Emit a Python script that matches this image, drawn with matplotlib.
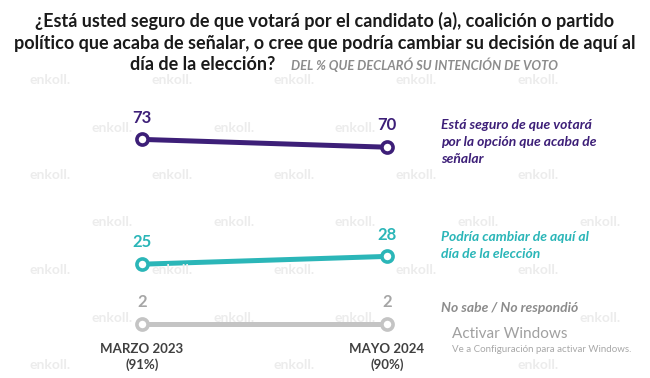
import matplotlib
matplotlib.use('Agg')
import matplotlib.pyplot as plt

plt.rcParams['font.family'] = ['Lato', 'DejaVu Sans']

periods = ['MARZO 2023\n(91%)', 'MAYO 2024\n(90%)']
seguro = [73, 70]
podria_cambiar = [25, 28]
no_sabe = [2, 2]

series_names = ['Está seguro de que votará\npor la opción que acaba de\nseñalar',
                'Podría cambiar de aquí al\ndía de la elección',
                'No sabe / No respondió']
series_values = [seguro, podria_cambiar, no_sabe]
line_colors = ['#3d1f78', '#2bb6b8', '#c4c4c4']
value_colors = ['#3d1f78', '#2bb6b8', '#a6a6a6']
name_colors = ['#3d1f78', '#2bb6b8', '#8c8c8c']

W, H = 650, 378
fig = plt.figure(figsize=(6.5, 3.78), dpi=100)
ax = fig.add_axes([0, 0, 1, 1])
ax.set_xlim(-142 / 245, (W - 142) / 245)
ax.set_ylim(2 - (H - 324) / 2.6, 2 + 324 / 2.6)
ax.axis('off')

texts = []
x = list(range(len(periods)))
for vals, lc, vc in zip(series_values, line_colors, value_colors):
    ax.plot(x, vals, color=lc, lw=3.6, marker='o', ms=8, mfc='white',
            mec=lc, mew=2.6, solid_capstyle='round', zorder=3)
    for xi, v in zip(x, vals):
        texts.append(ax.annotate(str(v), (xi, v), xytext=(0, 10), textcoords='offset points',
                                 ha='center', va='bottom', fontsize=12, fontweight='bold',
                                 color=vc))

# series names on the right
name_y = [119, 231, 302]
for name, nc, yp in zip(series_names, name_colors, name_y):
    texts.append(fig.text(441 / W, 1 - yp / H, name, fontsize=10, fontstyle='italic',
                          fontweight='bold', color=nc, ha='left', va='top', linespacing=1.5))

# x category labels
for xi, lab in zip(x, periods):
    texts.append(ax.annotate(lab, (xi, 2), xytext=(0, -14), textcoords='offset points',
                             ha='center', va='top', fontsize=9.5, fontweight='bold',
                             color='#404040', linespacing=1.3))

# title
tkw = dict(fontsize=13, fontweight='bold', color='#1a1a1a', va='center')
texts.append(fig.text(0.5, 1 - 21 / H, '¿Está usted seguro de que votará por el candidato (a), coalición o partido',
                      ha='center', **tkw))
texts.append(fig.text(0.5, 1 - 43 / H, 'político que acaba de señalar, o cree que podría cambiar su decisión de aquí al',
                      ha='center', **tkw))
texts.append(fig.text(130 / W, 1 - 65 / H, 'día de la elección?', ha='left', **tkw))
texts.append(fig.text(291 / W, 1 - 65 / H, 'DEL % QUE DECLARÓ SU INTENCIÓN DE VOTO', ha='left',
                      va='center', fontsize=9.3, fontweight='bold', fontstyle='italic',
                      color='#8c8c8c'))

# OS activation overlay seen in the screenshot
texts.append(fig.text(452 / W, 1 - 334 / H, 'Activar Windows', ha='left', va='center',
                      fontsize=11, color='#a0a0a0'))
texts.append(fig.text(452 / W, 1 - 349 / H, 'Ve a Configuración para activar Windows.', ha='left',
                      va='center', fontsize=7, color='#a8a8a8'))

# faint watermark grid, skipping spots that would collide with real text
fig.canvas.draw()
renderer = fig.canvas.get_renderer()
boxes = [t.get_window_extent(renderer) for t in texts]
for r in range(7):
    yp = 80 + r * 47.5
    off = 0 if r % 2 == 0 else 61
    for c in range(-1, 6):
        xp = 30 + off + c * 122
        wm = fig.text(xp / W, 1 - yp / H, 'enkoll.', fontsize=10, fontweight='bold',
                      color='#ececec', ha='left', va='center', zorder=0)
        bb = wm.get_window_extent(renderer)
        if bb.x0 < 2 or bb.x1 > W - 2 or bb.y0 < 2 or any(bb.overlaps(b) for b in boxes):
            wm.remove()

fig.savefig('out.png', dpi=100)
